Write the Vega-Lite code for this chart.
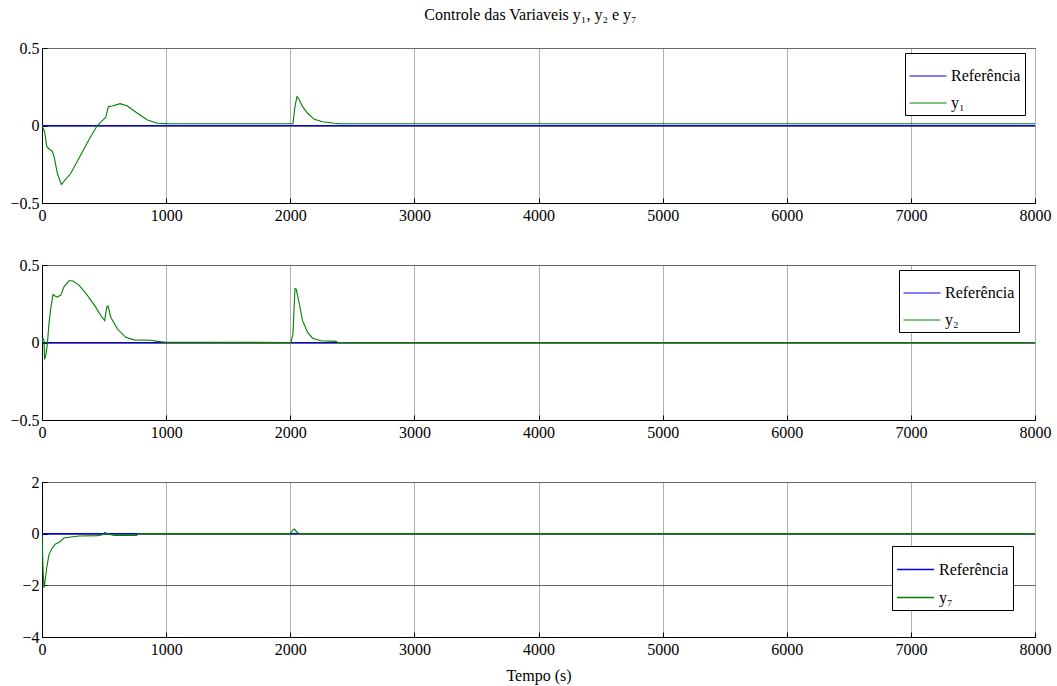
{
  "$schema": "https://vega.github.io/schema/vega-lite/v6.json",
  "background": "white",
  "padding": {"left": 9, "top": 6, "right": 10, "bottom": 5},
  "title": {"text": "Controle das Variaveis y₁, y₂ e y₇", "font": "Liberation Serif", "fontSize": 16, "fontWeight": "normal", "color": "black", "offset": 17, "anchor": "middle"},
  "config": {
    "font": "Liberation Serif",
    "view": {"stroke": "black", "strokeWidth": 1},
    "axis": {"labelFont": "Liberation Serif", "labelFontSize": 16, "labelColor": "black", "domainColor": "black", "tickColor": "black", "labelFlush": false, "labelOverlap": false, "titleFont": "Liberation Serif", "titleFontSize": 16, "titleFontWeight": "normal", "titleColor": "black"},
    "legend": {"labelFont": "Liberation Serif", "labelFontSize": 16, "labelColor": "black"}
  },
  "datasets": {
    "p1": [
      {"t": 0, "v": 0, "s": "Referência"}, {"t": 8000, "v": 0, "s": "Referência"},
      {"t": 0, "v": 0, "s": "y₁"}, {"t": 21, "v": -0.04, "s": "y₁"}, {"t": 38, "v": -0.135, "s": "y₁"}, {"t": 56, "v": -0.15, "s": "y₁"}, {"t": 83, "v": -0.167, "s": "y₁"}, {"t": 97, "v": -0.2, "s": "y₁"}, {"t": 124, "v": -0.31, "s": "y₁"}, {"t": 156, "v": -0.38, "s": "y₁"}, {"t": 231, "v": -0.31, "s": "y₁"}, {"t": 312, "v": -0.19, "s": "y₁"}, {"t": 379, "v": -0.09, "s": "y₁"}, {"t": 446, "v": 0, "s": "y₁"}, {"t": 513, "v": 0.053, "s": "y₁"}, {"t": 535, "v": 0.122, "s": "y₁"}, {"t": 567, "v": 0.126, "s": "y₁"}, {"t": 629, "v": 0.141, "s": "y₁"}, {"t": 688, "v": 0.126, "s": "y₁"}, {"t": 769, "v": 0.079, "s": "y₁"}, {"t": 849, "v": 0.036, "s": "y₁"}, {"t": 930, "v": 0.015, "s": "y₁"}, {"t": 1011, "v": 0.012, "s": "y₁"}, {"t": 1118, "v": 0.011, "s": "y₁"}, {"t": 2022, "v": 0.011, "s": "y₁"}, {"t": 2038, "v": 0.122, "s": "y₁"}, {"t": 2054, "v": 0.186, "s": "y₁"}, {"t": 2067, "v": 0.175, "s": "y₁"}, {"t": 2099, "v": 0.122, "s": "y₁"}, {"t": 2140, "v": 0.079, "s": "y₁"}, {"t": 2194, "v": 0.04, "s": "y₁"}, {"t": 2261, "v": 0.024, "s": "y₁"}, {"t": 2355, "v": 0.015, "s": "y₁"}, {"t": 2395, "v": 0.012, "s": "y₁"}, {"t": 8000, "v": 0.011, "s": "y₁"}
    ],
    "p2": [
      {"t": 0, "v": 0, "s": "Referência"}, {"t": 8000, "v": 0, "s": "Referência"},
      {"t": 0, "v": 0, "s": "y₂"}, {"t": 8, "v": 0.026, "s": "y₂"}, {"t": 16, "v": 0.01, "s": "y₂"}, {"t": 21, "v": -0.109, "s": "y₂"}, {"t": 32, "v": -0.076, "s": "y₂"}, {"t": 43, "v": -0.011, "s": "y₂"}, {"t": 56, "v": 0.12, "s": "y₂"}, {"t": 70, "v": 0.217, "s": "y₂"}, {"t": 89, "v": 0.31, "s": "y₂"}, {"t": 118, "v": 0.293, "s": "y₂"}, {"t": 151, "v": 0.304, "s": "y₂"}, {"t": 177, "v": 0.359, "s": "y₂"}, {"t": 218, "v": 0.398, "s": "y₂"}, {"t": 245, "v": 0.398, "s": "y₂"}, {"t": 298, "v": 0.37, "s": "y₂"}, {"t": 366, "v": 0.304, "s": "y₂"}, {"t": 433, "v": 0.228, "s": "y₂"}, {"t": 473, "v": 0.174, "s": "y₂"}, {"t": 505, "v": 0.141, "s": "y₂"}, {"t": 521, "v": 0.228, "s": "y₂"}, {"t": 532, "v": 0.235, "s": "y₂"}, {"t": 554, "v": 0.163, "s": "y₂"}, {"t": 608, "v": 0.087, "s": "y₂"}, {"t": 675, "v": 0.033, "s": "y₂"}, {"t": 742, "v": 0.017, "s": "y₂"}, {"t": 876, "v": 0.015, "s": "y₂"}, {"t": 930, "v": 0.007, "s": "y₂"}, {"t": 997, "v": 0.002, "s": "y₂"}, {"t": 2005, "v": 0, "s": "y₂"}, {"t": 2022, "v": 0.054, "s": "y₂"}, {"t": 2038, "v": 0.348, "s": "y₂"}, {"t": 2048, "v": 0.344, "s": "y₂"}, {"t": 2073, "v": 0.25, "s": "y₂"}, {"t": 2099, "v": 0.141, "s": "y₂"}, {"t": 2140, "v": 0.065, "s": "y₂"}, {"t": 2180, "v": 0.028, "s": "y₂"}, {"t": 2247, "v": 0.011, "s": "y₂"}, {"t": 2368, "v": 0.007, "s": "y₂"}, {"t": 2382, "v": 0, "s": "y₂"}, {"t": 8000, "v": 0, "s": "y₂"}
    ],
    "p3": [
      {"t": 0, "v": 0, "s": "Referência"}, {"t": 8000, "v": 0, "s": "Referência"},
      {"t": 0, "v": 0, "s": "y₇"}, {"t": 8, "v": -1.33, "s": "y₇"}, {"t": 16, "v": -2.1, "s": "y₇"}, {"t": 24, "v": -1.85, "s": "y₇"}, {"t": 38, "v": -1.33, "s": "y₇"}, {"t": 56, "v": -0.81, "s": "y₇"}, {"t": 83, "v": -0.55, "s": "y₇"}, {"t": 110, "v": -0.4, "s": "y₇"}, {"t": 142, "v": -0.32, "s": "y₇"}, {"t": 177, "v": -0.17, "s": "y₇"}, {"t": 218, "v": -0.14, "s": "y₇"}, {"t": 298, "v": -0.09, "s": "y₇"}, {"t": 446, "v": -0.077, "s": "y₇"}, {"t": 487, "v": -0.04, "s": "y₇"}, {"t": 508, "v": 0.05, "s": "y₇"}, {"t": 527, "v": 0, "s": "y₇"}, {"t": 581, "v": -0.065, "s": "y₇"}, {"t": 763, "v": -0.065, "s": "y₇"}, {"t": 774, "v": 0, "s": "y₇"}, {"t": 2000, "v": 0, "s": "y₇"}, {"t": 2022, "v": 0.15, "s": "y₇"}, {"t": 2032, "v": 0.18, "s": "y₇"}, {"t": 2054, "v": 0.065, "s": "y₇"}, {"t": 2067, "v": 0.01, "s": "y₇"}, {"t": 2080, "v": 0, "s": "y₇"}, {"t": 8000, "v": 0, "s": "y₇"}
    ]
  },
  "resolve": {"scale": {"color": "independent", "y": "independent"}, "legend": {"color": "independent"}},
  "bounds": "flush",
  "spacing": 62,
  "vconcat": [
    {
      "width": 993, "height": 155,
      "data": {"name": "p1"},
      "mark": {"type": "line", "strokeWidth": 1.1, "clip": true},
      "encoding": {
        "x": {"field": "t", "type": "quantitative", "scale": {"domain": [0, 8000], "nice": false}, "axis": {"title": null, "values": [0,1000,2000,3000,4000,5000,6000,7000,8000], "format": "d", "labelFont": "Liberation Serif", "grid": true, "gridColor": "#b0b0b0", "tickSize": -5, "labelPadding": 9}},
        "y": {"field": "v", "type": "quantitative", "scale": {"domain": [-0.5, 0.5], "nice": false}, "axis": {"title": null, "values": [-0.5, 0, 0.5], "format": "~r", "labelFont": "Liberation Serif", "grid": true, "gridColor": "#666666", "tickSize": -5, "labelPadding": 8}},
        "color": {"field": "s", "type": "nominal", "scale": {"domain": ["Referência", "y₁"], "range": ["#0000ff", "#008000"]}, "legend": {"title": null, "orient": "none", "legendX": 863, "legendY": 5, "symbolType": "stroke", "symbolSize": 1369, "symbolStrokeWidth": 1, "strokeColor": "black", "fillColor": "white", "padding": 4, "rowPadding": -2, "labelOffset": 4}}
      }
    },
    {
      "width": 993, "height": 155,
      "data": {"name": "p2"},
      "mark": {"type": "line", "strokeWidth": 1.1, "clip": true},
      "encoding": {
        "x": {"field": "t", "type": "quantitative", "scale": {"domain": [0, 8000], "nice": false}, "axis": {"title": null, "values": [0,1000,2000,3000,4000,5000,6000,7000,8000], "format": "d", "labelFont": "Liberation Serif", "grid": true, "gridColor": "#b0b0b0", "tickSize": -5, "labelPadding": 9}},
        "y": {"field": "v", "type": "quantitative", "scale": {"domain": [-0.5, 0.5], "nice": false}, "axis": {"title": null, "values": [-0.5, 0, 0.5], "format": "~r", "labelFont": "Liberation Serif", "grid": true, "gridColor": "#666666", "tickSize": -5, "labelPadding": 8}},
        "color": {"field": "s", "type": "nominal", "scale": {"domain": ["Referência", "y₂"], "range": ["#0000ff", "#008000"]}, "legend": {"title": null, "orient": "none", "legendX": 857, "legendY": 5, "symbolType": "stroke", "symbolSize": 1369, "symbolStrokeWidth": 1, "strokeColor": "black", "fillColor": "white", "padding": 4, "rowPadding": -2, "labelOffset": 4}}
      }
    },
    {
      "width": 993, "height": 155,
      "data": {"name": "p3"},
      "mark": {"type": "line", "strokeWidth": 1.1, "clip": true},
      "encoding": {
        "x": {"field": "t", "type": "quantitative", "scale": {"domain": [0, 8000], "nice": false}, "axis": {"title": "Tempo (s)", "titlePadding": 10, "values": [0,1000,2000,3000,4000,5000,6000,7000,8000], "format": "d", "labelFont": "Liberation Serif", "grid": true, "gridColor": "#b0b0b0", "tickSize": -5, "labelPadding": 9}},
        "y": {"field": "v", "type": "quantitative", "scale": {"domain": [-4, 2], "nice": false}, "axis": {"title": null, "values": [-4, -2, 0, 2], "format": "d", "labelFont": "Liberation Serif", "grid": true, "gridColor": "#666666", "tickSize": -5, "labelPadding": 8}},
        "color": {"field": "s", "type": "nominal", "scale": {"domain": ["Referência", "y₇"], "range": ["#0000ff", "#008000"]}, "legend": {"title": null, "orient": "none", "legendX": 850, "legendY": 64, "symbolType": "stroke", "symbolSize": 1369, "symbolStrokeWidth": 1.5, "strokeColor": "black", "fillColor": "white", "padding": 4, "rowPadding": -2, "labelOffset": 4}}
      }
    }
  ]
}
